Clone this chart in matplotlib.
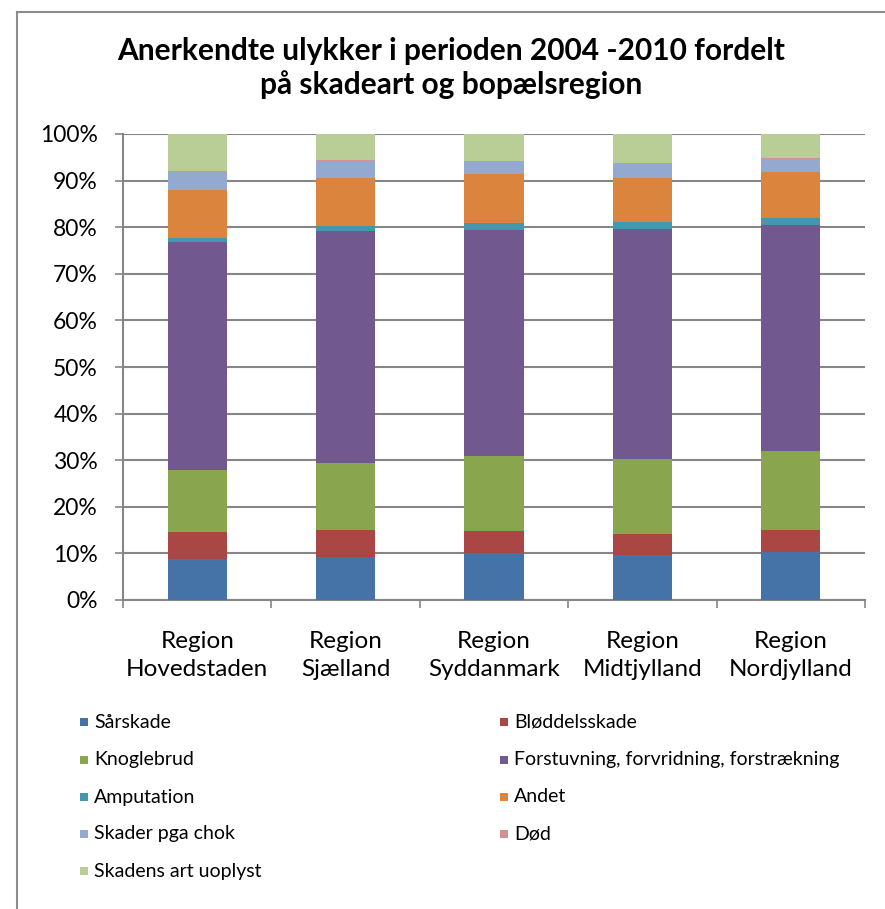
import matplotlib
matplotlib.use("Agg")
import matplotlib.pyplot as plt
from matplotlib.patches import Rectangle
from matplotlib.lines import Line2D
import numpy as np

plt.rcParams['font.family'] = ['Lato', 'DejaVu Sans']

regions = ["Region\nHovedstaden", "Region\nSjælland", "Region\nSyddanmark",
           "Region\nMidtjylland", "Region\nNordjylland"]
series_names = ["Sårskade", "Bløddelsskade", "Knoglebrud",
                "Forstuvning, forvridning, forstrækning", "Amputation", "Andet",
                "Skader pga chok", "Død", "Skadens art uoplyst"]
sarskade = [8.8, 9.3, 10.0, 9.7, 10.4]
bloddelsskade = [5.7, 5.7, 4.7, 4.5, 4.6]
knoglebrud = [13.5, 14.4, 16.3, 16.0, 17.0]
forstuvning = [48.9, 49.7, 48.5, 49.5, 48.4]
amputation = [0.7, 1.2, 1.3, 1.5, 1.6]
andet = [10.4, 10.3, 10.7, 9.4, 9.9]
chok = [3.9, 3.7, 2.6, 3.1, 2.7]
dod = [0.1, 0.2, 0.1, 0.1, 0.2]
uoplyst = [8.0, 5.5, 5.8, 6.2, 5.2]
y_ticks = [0, 10, 20, 30, 40, 50, 60, 70, 80, 90, 100]
title = "Anerkendte ulykker i perioden 2004 -2010 fordelt\npå skadeart og bopælsregion"

colors = ["#4572A7", "#AA4643", "#89A54E", "#71588F", "#4198AF",
          "#DB843D", "#93A9CF", "#D19392", "#B9CD96"]
series = [sarskade, bloddelsskade, knoglebrud, forstuvning, amputation,
          andet, chok, dod, uoplyst]

W, H = 885, 909
fig = plt.figure(figsize=(W / 100, H / 100), dpi=100)
ax = fig.add_axes([123 / W, 1 - 600 / H, (865 - 123) / W, (600 - 134) / H])

x = np.arange(len(regions))
bottom = np.zeros(len(regions))
for vals, c in zip(series, colors):
    v = np.array(vals, dtype=float)
    ax.bar(x, v, bottom=bottom, width=0.4, color=c, edgecolor='none', zorder=3)
    bottom += v

ax.set_xlim(-0.5, len(regions) - 0.5)
ax.set_ylim(0, 100)
ax.set_yticks(y_ticks)
ax.set_yticklabels([f"{t}%" for t in y_ticks], fontsize=16.5)
ax.yaxis.grid(True, color="#868686", linewidth=1.5, zorder=0)
ax.set_axisbelow(True)
ax.tick_params(axis='y', length=6, width=1.2, color="#868686", pad=12)

ax.set_xticks(x)
ax.set_xticklabels(regions, fontsize=17.5, linespacing=1.42)
ax.tick_params(axis='x', length=0, pad=22)
ax.set_xticks(np.arange(-0.5, len(regions)), minor=True)
ax.tick_params(axis='x', which='minor', length=6, width=1.2, color="#868686")

for s in ['top', 'right']:
    ax.spines[s].set_visible(False)
for s in ['left', 'bottom']:
    ax.spines[s].set_color("#868686")
    ax.spines[s].set_linewidth(1.5)

fig.text(451 / W, 1 - 68 / H, title, ha='center', va='center',
         fontsize=21.5, fontweight='bold', linespacing=1.25)

# legend (row-major, two columns)
col_x = [80, 500]
row_y = [722, 760, 797, 834, 871]
for i, (name, c) in enumerate(zip(series_names, colors)):
    r, col = divmod(i, 2)
    mx, my = col_x[col], row_y[r]
    fig.patches.append(Rectangle((mx / W, 1 - (my + 4) / H), 8 / W, 8 / H,
                                 transform=fig.transFigure, facecolor=c,
                                 edgecolor='none'))
    fig.text((mx + 14) / W, 1 - my / H, name, ha='left', va='center',
             fontsize=14)

# chart border
fig.add_artist(Line2D([17 / W, 17 / W], [0, 1 - 12 / H], color="#8c8c8c",
                      linewidth=1.5, transform=fig.transFigure))
fig.add_artist(Line2D([17 / W, 1], [1 - 12 / H, 1 - 12 / H], color="#8c8c8c",
                      linewidth=1.5, transform=fig.transFigure))

fig.savefig("out.png", dpi=100)
